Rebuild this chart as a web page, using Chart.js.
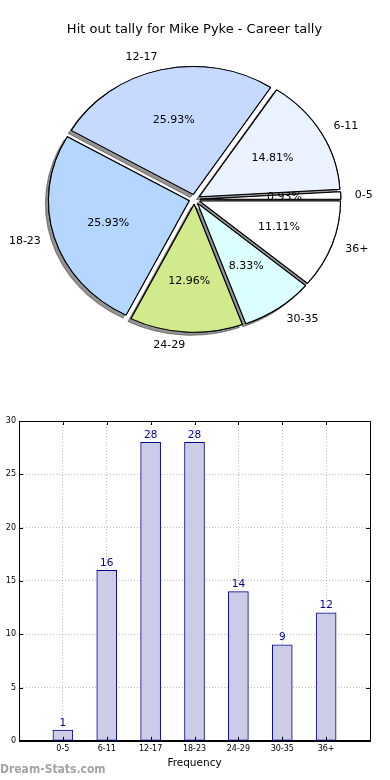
<!DOCTYPE html>
<html>
<head>
<meta charset="utf-8">
<script src="https://cdn.jsdelivr.net/npm/chart.js@4.4.1/dist/chart.umd.min.js"></script>
<style>
  html, body { margin: 0; padding: 0; background: #fff; }
  body { position: relative; width: 390px; height: 780px; overflow: hidden; font-family: "DejaVu Sans", sans-serif; }
  #pieChart { position: absolute; left: 0; top: 0; }
  #barChart { position: absolute; left: -16px; top: 390px; }
  #mark { position: absolute; left: 0; top: 762px; font: bold 12px "DejaVu Sans Condensed", "DejaVu Sans", sans-serif; color: #a3a3a3; }
</style>
</head>
<body>
<canvas id="pieChart" width="390" height="390"></canvas>
<canvas id="barChart" width="406" height="390"></canvas>
<div id="mark">Dream-Stats.com</div>

<script>
/* data */
const categories = ['0-5', '6-11', '12-17', '18-23', '24-29', '30-35', '36+'];
const counts = [1, 16, 28, 28, 14, 9, 12];
const sliceColors = ['#ffffff', '#eaf1ff', '#c6d9ff', '#b4d6ff', '#d0ea8c', '#dbffff', '#ffffff'];
const yTicks = { min: 0, max: 30, step: 5 };

const FONT = '"DejaVu Sans", sans-serif';
const total = counts.reduce((s, v) => s + v, 0);

/* ── pie: matplotlib style (elliptical, exploded, shadowed) ── */
const PIE_STRETCH = 1.1;   // horizontal stretch of the pie
const EXPLODE = 5;         // px each wedge is pushed out

function drawArcs(chart, shadow) {
  const ctx = chart.ctx;
  chart.getDatasetMeta(0).data.forEach(arc => {
    const mid = (arc.startAngle + arc.endAngle) / 2;
    ctx.save();
    if (shadow) {
      ctx.shadowColor = 'rgba(60,60,60,0.55)';
      ctx.shadowOffsetX = -3;
      ctx.shadowOffsetY = 3;
    }
    ctx.translate(arc.x + PIE_STRETCH * EXPLODE * Math.cos(mid), arc.y + EXPLODE * Math.sin(mid));
    ctx.scale(PIE_STRETCH, 1);
    ctx.translate(-arc.x, -arc.y);
    arc.draw(ctx);
    ctx.restore();
  });
}

const pieShape = {
  id: 'pieShape',
  beforeDatasetsDraw(chart) {
    drawArcs(chart, true);
    drawArcs(chart, false);
    return false;
  },
  afterDraw(chart) {
    const ctx = chart.ctx;
    const ds = chart.data.datasets[0];
    ctx.save();
    ctx.fillStyle = '#000';
    ctx.font = '11px ' + FONT;
    ctx.textBaseline = 'middle';
    chart.getDatasetMeta(0).data.forEach((arc, i) => {
      const mid = (arc.startAngle + arc.endAngle) / 2;
      const c = Math.cos(mid), s = Math.sin(mid);
      const r = arc.outerRadius;
      const px = k => arc.x + PIE_STRETCH * (r * k + EXPLODE) * c;
      const py = k => arc.y + (r * k + EXPLODE) * s;
      ctx.textAlign = c > 0 ? 'left' : 'right';
      ctx.fillText(chart.data.labels[i], px(1.1), py(1.1));
      ctx.textAlign = 'center';
      ctx.fillText((ds.data[i] / total * 100).toFixed(2) + '%', px(0.6), py(0.6));
    });
    ctx.restore();
  }
};

// matplotlib goes counter-clockwise from 3 o'clock, Chart.js clockwise -> reverse
new Chart(document.getElementById('pieChart'), {
  type: 'pie',
  data: {
    labels: [...categories].reverse(),
    datasets: [{
      data: [...counts].reverse(),
      backgroundColor: [...sliceColors].reverse(),
      borderColor: '#000',
      borderWidth: 1,
    }],
  },
  options: {
    responsive: false,
    animation: false,
    rotation: 90,
    layout: { padding: { top: 0, left: 66, right: 67, bottom: 62 } },
    plugins: {
      legend: { display: false },
      tooltip: { enabled: false },
      title: {
        display: true,
        text: 'Hit out tally for Mike Pyke - Career tally',
        color: '#000',
        font: { family: FONT, size: 13, weight: 'normal' },
        padding: { top: 22, bottom: 33 },
      },
    },
  },
  plugins: [pieShape],
});

/* ── bar chart ── */
const frameAndLabels = {
  id: 'frameAndLabels',
  afterDatasetsDraw(chart) {
    const ctx = chart.ctx;
    const a = chart.chartArea;
    const x = chart.scales.x, y = chart.scales.y;
    ctx.save();
    // inward tick marks like matplotlib
    ctx.strokeStyle = '#000';
    ctx.lineWidth = 1;
    ctx.beginPath();
    for (let v = yTicks.min; v <= yTicks.max; v += yTicks.step) {
      const py = Math.round(y.getPixelForValue(v)) + 0.5;
      ctx.moveTo(a.left, py); ctx.lineTo(a.left + 4, py);
      ctx.moveTo(a.right, py); ctx.lineTo(a.right - 4, py);
    }
    categories.forEach((c, i) => {
      const px = Math.round(x.getPixelForValue(i)) + 0.5;
      ctx.moveTo(px, a.bottom); ctx.lineTo(px, a.bottom - 4);
      ctx.moveTo(px, a.top); ctx.lineTo(px, a.top + 4);
    });
    ctx.stroke();
    ctx.strokeRect(Math.round(a.left) + 0.5, Math.round(a.top) + 0.5, Math.round(a.width), Math.round(a.height));

    // value labels
    ctx.fillStyle = '#000090';
    ctx.font = '10.5px ' + FONT;
    ctx.textAlign = 'center';
    ctx.textBaseline = 'bottom';
    chart.getDatasetMeta(0).data.forEach((bar, i) => {
      ctx.fillText(String(counts[i]), bar.x, bar.y - 2);
    });
    ctx.restore();
  }
};

new Chart(document.getElementById('barChart'), {
  type: 'bar',
  data: {
    datasets: [{
      data: categories.map((c, i) => ({ x: i, y: counts[i] })),
      backgroundColor: '#ccccE6',
      borderColor: '#000090',
      borderWidth: 1,
      borderSkipped: false,
      barThickness: 20,
    }],
  },
  options: {
    responsive: false,
    animation: false,
    layout: { padding: { top: 31, right: 20, bottom: 4, left: 0 } },
    plugins: { legend: { display: false }, tooltip: { enabled: false } },
    scales: {
      x: {
        type: 'linear',
        offset: false,
        min: -1,
        max: 7,
        ticks: {
          stepSize: 1,
          autoSkip: false,
          maxRotation: 0,
          padding: 3,
          color: '#000',
          font: { family: FONT, size: 8 },
          callback: v => categories[v] ?? '',
        },
        grid: { offset: false, color: 'rgba(0,0,0,0.25)', drawTicks: false },
        border: { color: '#000', dash: [1, 2] },
        title: {
          display: true,
          text: 'Frequency',
          color: '#000',
          font: { family: FONT, size: 10.5 },
          padding: { top: 1, bottom: 6 },
        },
      },
      y: {
        min: yTicks.min,
        max: yTicks.max,
        ticks: {
          stepSize: yTicks.step,
          padding: 3,
          color: '#000',
          font: { family: FONT, size: 8 },
        },
        grid: { color: 'rgba(0,0,0,0.25)', drawTicks: false },
        border: { color: '#000', dash: [1, 2] },
        title: {
          display: true,
          text: 'Total Hit Outs',
          color: '#000',
          font: { family: FONT, size: 10.5 },
          padding: { top: 0, bottom: 4 },
        },
        afterFit(scale) { scale.width = 35; },
      },
    },
  },
  plugins: [frameAndLabels],
});
</script>
</body>
</html>
